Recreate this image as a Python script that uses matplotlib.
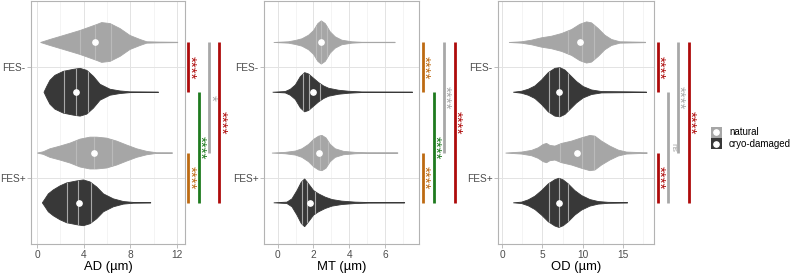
import numpy as np
import matplotlib
matplotlib.use("Agg")
import matplotlib.pyplot as plt
from matplotlib.patches import Rectangle
from matplotlib.lines import Line2D

plt.rcParams['font.family'] = ['Liberation Sans', 'DejaVu Sans']

# ---- data ----
groups = ["FES+", "FES-"]
conditions = ["natural", "cryo-damaged"]

# violin outlines: x values and half-widths (relative density, max ~25)
ad_nat_m_x = [0.31, 1.11, 2.26, 3.68, 5.11, 5.54, 6.26, 7.11, 7.97, 8.83, 9.4, 10.5, 12.05]
ad_nat_m_w = [0, 3, 7, 12, 18, 20, 19, 14, 7, 3, 0.7, 0.4, 0.2]
ad_cry_m_x = [0.6, 0.83, 1.11, 1.54, 2.26, 3.11, 3.69, 4.26, 4.83, 5.4, 6.26, 7.11, 7.97, 10.4]
ad_cry_m_w = [0, 5.7, 12, 17, 21, 23, 24, 22, 16, 8, 3, 1.3, 0.4, 0.2]
ad_nat_p_x = [0.03, 0.54, 1.11, 1.97, 2.83, 3.69, 4.54, 5.11, 5.97, 6.83, 7.69, 8.54, 9.4, 10.26, 11.6]
ad_nat_p_w = [0, 1.3, 4.3, 7, 10, 14, 16, 16, 15, 12, 8, 4.3, 1.7, 0.3, 0.2]
ad_cry_p_x = [0.46, 0.69, 0.97, 1.4, 1.97, 2.54, 3.4, 3.97, 4.54, 5.11, 5.69, 6.54, 7.4, 8.26, 9.74]
ad_cry_p_w = [0, 4, 9, 13, 17, 20, 22, 23, 21, 16, 9, 4, 1.3, 0.4, 0.2]

mt_nat_m_x = [-0.22, 0.61, 0.99, 1.36, 1.73, 2.01, 2.25, 2.44, 2.66, 2.94, 3.22, 3.59, 4.15, 4.71, 6.57]
mt_nat_m_w = [0, 0.7, 2, 3.7, 7.3, 12, 19, 21.7, 19, 10.7, 5.7, 2.3, 0.7, 0.2, 0.2]
mt_cry_m_x = [-0.28, 0.43, 0.71, 0.99, 1.27, 1.51, 1.73, 2.01, 2.29, 2.57, 2.85, 3.41, 3.97, 4.71, 7.54]
mt_cry_m_w = [0, 0.7, 3, 7.3, 15.7, 19.7, 18.3, 14, 9.7, 6.3, 4, 2, 1, 0.3, 0.2]
mt_nat_p_x = [-0.32, 0.43, 0.99, 1.36, 1.73, 2.01, 2.29, 2.48, 2.7, 2.94, 3.22, 3.69, 4.34, 5.08, 6.72]
mt_nat_p_w = [0, 0.7, 2, 4.3, 8.7, 13.7, 17, 17.7, 15.3, 8.7, 4.3, 1.7, 0.7, 0.3, 0.2]
mt_cry_p_x = [-0.22, 0.52, 0.8, 1.08, 1.32, 1.51, 1.73, 2.01, 2.29, 2.66, 3.04, 3.59, 4.34, 5.08, 7.1]
mt_cry_p_w = [0, 0.7, 4, 12.3, 20.7, 24, 19, 12.3, 9, 5.7, 3.3, 1.7, 0.7, 0.3, 0.2]

od_nat_m_x = [0.87, 2.43, 3.67, 4.9, 6.14, 7.38, 8.61, 9.64, 10.47, 11.08, 11.91, 12.73, 13.56, 14.59, 17.76]
od_nat_m_w = [0, 0.7, 2.3, 4.7, 6.3, 9, 13, 18.3, 20.7, 19.7, 14, 7.3, 3, 0.7, 0.2]
od_cry_m_x = [1.4, 2.43, 3.26, 4.08, 4.9, 5.73, 6.55, 7.17, 7.79, 8.41, 9.23, 10.05, 11.08, 12.32, 17.88]
od_cry_m_w = [0, 1, 3, 6.3, 12.3, 19.7, 24, 24.7, 22.3, 17.3, 10.7, 5.7, 2.3, 0.7, 0.2]
od_nat_p_x = [0.45, 2.43, 3.67, 4.49, 5.11, 5.52, 5.93, 6.55, 7.38, 8.61, 9.85, 10.88, 11.5, 12.32, 13.35, 14.38, 15.41, 17.96]
od_nat_p_w = [0, 1, 2.7, 5.3, 8.7, 9.7, 7.7, 7, 9.7, 12, 15.3, 17.7, 17, 12, 7, 3, 1, 0.2]
od_cry_p_x = [1.4, 2.43, 3.26, 4.08, 4.9, 5.73, 6.55, 7.05, 7.58, 8.2, 9.02, 9.85, 10.88, 11.91, 13.14, 15.53]
od_cry_p_w = [0, 0.7, 3, 6.7, 12.3, 19, 23.3, 24.7, 23, 19, 12.3, 7.3, 3.3, 1.3, 0.5, 0.2]

# quartiles (q1, median, q3) and means; order: nat FES-, cryo FES-, nat FES+, cryo FES+
ad_quart = [(3.69, 4.97, 6.3), (2.33, 3.37, 4.34), (3.34, 4.91, 6.46), (2.54, 3.5, 4.65)]
ad_mean = [5.0, 3.37, 4.89, 3.6]
mt_quart = [(2.15, 2.42, 2.75), (1.42, 1.74, 2.34), (1.95, 2.35, 2.8), (1.35, 1.63, 2.08)]
mt_mean = [2.42, 1.95, 2.31, 1.81]
od_quart = [(8.2, 9.85, 11.35), (5.8, 7.05, 8.2), (7.2, 9.85, 11.35), (5.8, 7.0, 8.2)]
od_mean = [9.6, 7.08, 9.25, 7.0]

# significance brackets: (from, to, height, label, colour-key)
ad_sig = [("nat-", "cry-", 12.97, "****", "red"), ("nat+", "cry+", 12.97, "****", "orange"),
          ("cry-", "cry+", 13.88, "****", "green"), ("nat-", "nat+", 14.74, "*", "gray"),
          ("nat-", "cry+", 15.62, "****", "red")]
mt_sig = [("nat-", "cry-", 8.12, "****", "orange"), ("nat+", "cry+", 8.12, "****", "orange"),
          ("cry-", "cry+", 8.73, "****", "green"), ("nat-", "nat+", 9.29, "****", "gray"),
          ("nat-", "cry+", 9.9, "****", "red")]
od_sig = [("nat-", "cry-", 19.26, "****", "red"), ("nat+", "cry+", 19.26, "****", "red"),
          ("cry-", "cry+", 20.5, "ns", "gray"), ("nat-", "nat+", 21.73, "****", "gray"),
          ("nat-", "cry+", 23.09, "****", "red")]

# ---- styling ----
FILL = {"natural": "#A6A6A6", "cryo-damaged": "#383838"}
QLINE = {"natural": "#BABABA", "cryo-damaged": "#A8A8A8"}
SIGCOL = {"red": "#AE0B0B", "orange": "#BD6A12", "green": "#1E7A1E", "gray": "#A8A8A8"}
GRID = "#E3E3E3"
BORDER = "#B3B3B3"
TXT = "#4D4D4D"
DODGE = 0.225
WSCALE = 0.225 / 25.0
ypos = {"nat-": 2 + DODGE, "cry-": 2 - DODGE, "nat+": 1 + DODGE, "cry+": 1 - DODGE}

W, H = 792, 274
fig = plt.figure(figsize=(W / 100, H / 100), dpi=100)


def px_axes(left, right, top=1.0, bottom=244.3):
    return fig.add_axes([left / W, 1 - bottom / H, (right - left) / W, (bottom - top) / H])


def draw_panel(ax, violins, quarts, means, sigs, xlim, major, minor, xlabel):
    ax.set_xlim(*xlim)
    ax.set_ylim(0.4, 2.6)
    keys = ["nat-", "cry-", "nat+", "cry+"]
    for k, (xs, ws), q, m in zip(keys, violins, quarts, means):
        xs = np.asarray(xs)
        ws = np.asarray(ws) * WSCALE
        yc = ypos[k]
        cond = "natural" if k.startswith("nat") else "cryo-damaged"
        poly = ax.fill(np.concatenate([xs, xs[::-1]]),
                       np.concatenate([yc + ws, (yc - ws)[::-1]]),
                       facecolor=FILL[cond], edgecolor=FILL[cond], lw=0.6, zorder=2)[0]
        lc = ax.vlines(q, yc - 0.3, yc + 0.3, colors=QLINE[cond], lw=0.8, zorder=3)
        lc.set_clip_path(poly)
        ax.plot([m], [yc], "o", color="white", ms=3.8, mec="white", zorder=4)

    for a, b, h, lab, c in sigs:
        y0, y1 = ypos[a], ypos[b]
        ax.plot([h, h], [y0, y1], color=SIGCOL[c], lw=2.0, solid_capstyle="butt",
                clip_on=False, zorder=5)
        if lab == "ns":
            ax.annotate(lab, xy=(h, (y0 + y1) / 2), xytext=(3.4, 0), textcoords="offset points",
                        rotation=-90, rotation_mode="anchor", ha="center", va="center",
                        fontsize=6, color=SIGCOL[c], annotation_clip=False)
        else:
            ax.annotate(lab, xy=(h, (y0 + y1) / 2), xytext=(1.0, 0), textcoords="offset points",
                        rotation=-90, rotation_mode="anchor", ha="center", va="center",
                        fontsize=11, color=SIGCOL[c], annotation_clip=False)

    ax.set_xticks(major)
    ax.set_xticks(minor, minor=True)
    ax.set_yticks([1, 2])
    ax.set_yticklabels(groups)
    ax.grid(True, which="major", color=GRID, lw=0.7, zorder=0)
    ax.grid(True, which="minor", axis="x", color="#EEEEEE", lw=0.45, zorder=0)
    ax.set_axisbelow(True)
    ax.tick_params(which="major", length=2.8, width=0.6, color=BORDER, labelsize=7.3,
                   labelcolor=TXT, pad=1.5)
    ax.tick_params(which="minor", length=0)
    ax.tick_params(axis="y", pad=1.0)
    for s in ax.spines.values():
        s.set_color(BORDER)
        s.set_linewidth(0.8)
    ax.set_xlabel(xlabel, fontsize=9.4, labelpad=0.3)


ax1 = px_axes(30.7, 185.2)
draw_panel(ax1, [(ad_nat_m_x, ad_nat_m_w), (ad_cry_m_x, ad_cry_m_w),
                 (ad_nat_p_x, ad_nat_p_w), (ad_cry_p_x, ad_cry_p_w)],
           ad_quart, ad_mean, ad_sig, (-0.54, 12.69), [0, 4, 8, 12], [2, 6, 10], "AD (µm)")

ax2 = px_axes(264.0, 419.3)
draw_panel(ax2, [(mt_nat_m_x, mt_nat_m_w), (mt_cry_m_x, mt_cry_m_w),
                 (mt_nat_p_x, mt_nat_p_w), (mt_cry_p_x, mt_cry_p_w)],
           mt_quart, mt_mean, mt_sig, (-0.765, 7.92), [0, 2, 4, 6], [1, 3, 5, 7], "MT (µm)")

ax3 = px_axes(498.0, 654.0)
draw_panel(ax3, [(od_nat_m_x, od_nat_m_w), (od_cry_m_x, od_cry_m_w),
                 (od_nat_p_x, od_nat_p_w), (od_cry_p_x, od_cry_p_w)],
           od_quart, od_mean, od_sig, (-0.49, 18.8), [0, 5, 10, 15], [2.5, 7.5, 12.5, 17.5], "OD (µm)")

# legend, drawn by hand in figure pixels: grey key squares with a white dot
key_x, key_w = 710.7, 11.0
key_top = [126.7, 138.3]
for cond, top in zip(conditions, key_top):
    fig.add_artist(Rectangle((key_x / W, 1 - (top + key_w) / H), key_w / W, key_w / H,
                             transform=fig.transFigure, facecolor=FILL[cond], edgecolor="none"))
    cy = 1 - (top + key_w / 2) / H
    fig.add_artist(Line2D([(key_x + key_w / 2) / W], [cy], transform=fig.transFigure,
                          marker="o", ls="none", color="white", ms=3.8))
    fig.text(729 / W, cy, cond, fontsize=7.0, color="black", ha="left", va="center")

fig.savefig("out.png", dpi=100)
